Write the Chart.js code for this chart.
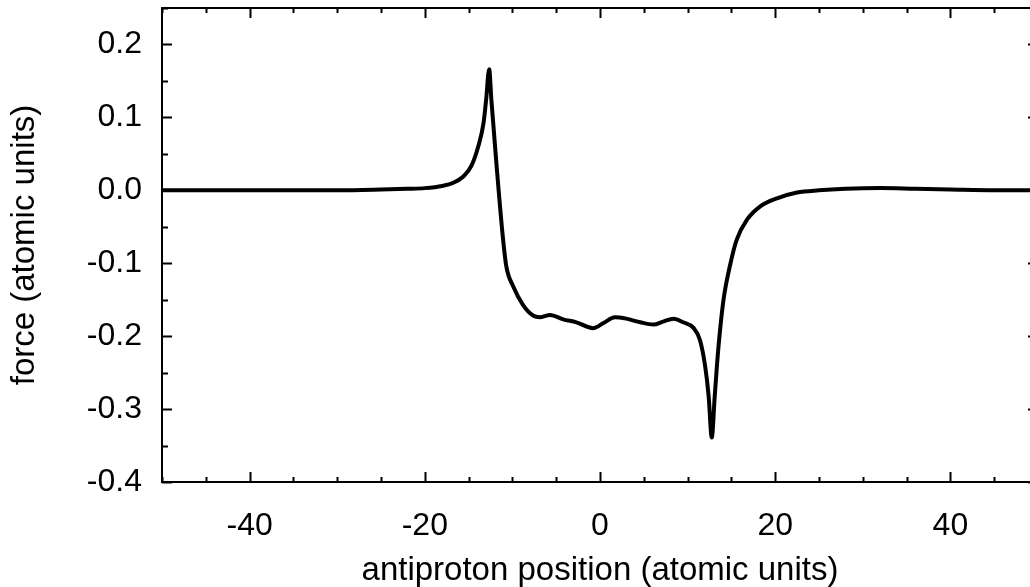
<!DOCTYPE html>
<html>
<head>
<meta charset="utf-8">
<script src="https://cdn.jsdelivr.net/npm/chart.js@4"></script>
<style>
  html, body { margin: 0; padding: 0; background: #fff; overflow: hidden; }
  canvas { display: block; }
</style>
</head>
<body>
<canvas id="chartForce" width="1038" height="587"></canvas>
<script>
// posição do antipróton (u.a.) e força
const posicao = [-50, -40, -30, -25, -22, -20, -18, -16.8, -15.6, -14.7, -13.9, -13.3, -13.0, -12.65,
  -12.4, -11.8, -11.1, -10.7, -9.9, -8.8, -7.6, -6.9, -5.7, -4.2, -2.7, -0.8, 0.4, 1.7, 3.0, 4.6,
  6.1, 7.2, 8.4, 9.5, 10.7, 11.4, 12.0, 12.4, 12.76, 13.1, 13.5, 14.1, 14.9, 15.6, 16.8, 18.3,
  20.2, 22.5, 25, 28, 32, 36, 40, 45, 50];
const forca = [0, 0, 0, 0.001, 0.002, 0.003, 0.006, 0.010, 0.019, 0.033, 0.060, 0.092, 0.124, 0.166,
  0.124, 0.033, -0.063, -0.104, -0.132, -0.157, -0.172, -0.174, -0.171, -0.177, -0.181, -0.189, -0.182, -0.174, -0.176, -0.181,
  -0.184, -0.180, -0.176, -0.181, -0.189, -0.205, -0.241, -0.282, -0.339, -0.282, -0.218, -0.150, -0.100, -0.068, -0.040, -0.022,
  -0.011, -0.003, 0.000, 0.002, 0.003, 0.002, 0.001, 0.000, 0.000];

const xTicks = [-40, -20, 0, 20, 40];
const yTicks = [-0.4, -0.3, -0.2, -0.1, 0.0, 0.1, 0.2];
const xMinor = 5;
const yMinor = 0.05;

const fonte = { family: '"Liberation Sans", Arial, sans-serif', size: 32 };
const fonteTitulo = { family: '"Liberation Sans", Arial, sans-serif', size: 33, lineHeight: 1 };

// moldura e marcas de escala para dentro (nos quatro lados)
const moldura = {
  id: 'moldura',
  afterDraw(chart) {
    const { ctx, chartArea: a, scales: { x, y } } = chart;
    ctx.save();
    ctx.strokeStyle = '#000';
    ctx.lineWidth = 2;
    ctx.strokeRect(a.left, a.top, a.right - a.left, a.bottom - a.top);
    ctx.beginPath();
    for (let v = x.min; v <= x.max + 1e-9; v += xMinor) {
      const px = Math.round(x.getPixelForValue(v)) + 0.5;
      const len = xTicks.includes(Math.round(v)) ? 10 : 5;
      ctx.moveTo(px, a.bottom); ctx.lineTo(px, a.bottom - len);
      ctx.moveTo(px, a.top); ctx.lineTo(px, a.top + len);
    }
    for (let v = y.min; v <= y.max + 1e-9; v += yMinor) {
      const py = Math.round(y.getPixelForValue(v)) + 0.5;
      const major = yTicks.some(t => Math.abs(t - v) < 1e-6);
      const len = major ? 10 : 6;
      ctx.moveTo(a.left, py); ctx.lineTo(a.left + len, py);
      ctx.moveTo(a.right, py); ctx.lineTo(a.right - len, py);
    }
    ctx.stroke();
    ctx.restore();
  }
};

new Chart(document.getElementById('chartForce').getContext('2d'), {
  type: 'line',
  data: {
    datasets: [{
      data: posicao.map((p, i) => ({ x: p, y: forca[i] })),
      borderColor: '#000',
      borderWidth: 4,
      pointRadius: 0,
      cubicInterpolationMode: 'monotone',
      fill: false
    }]
  },
  options: {
    responsive: false,
    animation: false,
    layout: { padding: { top: 8, right: 0, bottom: 0, left: 0 } },
    plugins: { legend: { display: false }, tooltip: { enabled: false } },
    scales: {
      x: {
        type: 'linear', min: -50, max: 50,
        afterBuildTicks: s => { s.ticks = xTicks.map(v => ({ value: v })); },
        afterFit: s => { s.height = 105; s.paddingLeft = 0; s.paddingRight = 0; },
        grid: { display: false, drawTicks: false },
        border: { display: false },
        ticks: { color: '#000', font: fonte, padding: 25, maxRotation: 0 },
        title: { display: true, text: 'antiproton position (atomic units)', color: '#000',
          font: fonteTitulo, padding: { top: 0, bottom: 0 } }
      },
      y: {
        min: -0.4, max: 0.25,
        afterBuildTicks: s => { s.ticks = yTicks.map(v => ({ value: v })); },
        afterFit: s => { s.width = 162; s.paddingTop = 0; s.paddingBottom = 0; },
        grid: { display: false, drawTicks: false },
        border: { display: false },
        ticks: { color: '#000', font: fonte, padding: 20, callback: v => v.toFixed(1) },
        title: { display: true, text: 'force (atomic units)', color: '#000',
          font: fonteTitulo, padding: { top: 8, bottom: 0 } }
      }
    }
  },
  plugins: [moldura]
});
</script>
</body>
</html>
